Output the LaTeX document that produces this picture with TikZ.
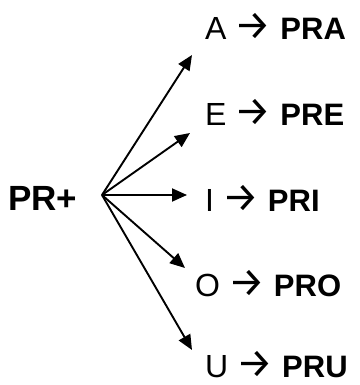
\documentclass[tikz,border=0pt]{standalone}
\usepackage{fontspec}
\setmainfont{Liberation Sans}
\newfontfamily\arrowfont{Fira Sans}
\newcommand{\rarr}{\hspace{8pt}{\arrowfont\fontsize{41}{44}\selectfont →}\hspace{9pt}}
\newcommand{\suf}[1]{{\fontsize{31}{36}\selectfont\bfseries #1}}
\usetikzlibrary{arrows.meta}
\begin{document}
\begin{tikzpicture}[x=1pt,y=1pt,
  vowel/.style={anchor=base west, inner sep=0pt, font=\fontsize{32}{36}\selectfont},
  conn/.style={line width=1.9pt, -{Triangle[length=15pt,width=13pt]}},
  stem/.style={font=\fontsize{35}{40}\selectfont\bfseries, anchor=base west, inner sep=0pt}]
\useasboundingbox (0,0) rectangle (359,385);
\node[stem] (pr) at (8,174) {PR+};
\coordinate (o) at (102,190);
\node[vowel] (a) at (205,345) {A\rarr\suf{PRA}};
\node[vowel] (e) at (205,259) {E\rarr\suf{PRE}};
\node[vowel] (i) at (205,173) {I\rarr\suf{PRI}};
\node[vowel] (oo) at (195,88) {O\rarr\suf{PRO}};
\node[vowel] (u) at (205,7) {U\rarr\suf{PRU}};
\coordinate (ta) at (192,330);
\coordinate (te) at (190,252);
\coordinate (ti) at (187,190);
\coordinate (to) at (185,117);
\coordinate (tu) at (192,35);
\foreach \t in {ta,te,ti,to,tu} \draw[conn] (o) -- (\t);
\end{tikzpicture}
\end{document}
